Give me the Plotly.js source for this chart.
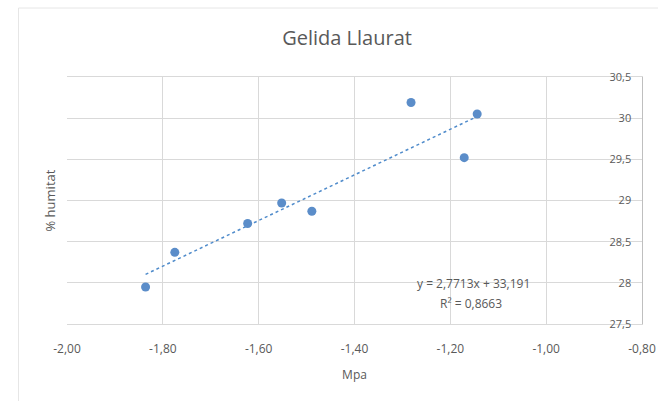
<!DOCTYPE html>
<html>
<head>
<meta charset="utf-8">
<script src="https://cdn.plot.ly/plotly-3.0.1.min.js"></script>
<style>html,body{margin:0;padding:0;background:#fff;}#chart{width:658px;height:401px;}</style>
</head>
<body>
<div id="chart"></div>
<script>
// Data
const mpa = [-1.836, -1.775, -1.623, -1.552, -1.489, -1.282, -1.171, -1.144];
const humitat = [27.95, 28.37, 28.72, 28.97, 28.87, 30.19, 29.52, 30.05];
// Trendline equation shown on the chart: y = 2,7713x + 33,191
const trendSlope = 2.7713;
const trendIntercept = 33.191;
const trendEquation = "y = 2,7713x + 33,191";
const trendR2 = "R² = 0,8663";
const xTickVals = [-2.0, -1.8, -1.6, -1.4, -1.2, -1.0, -0.8];
const xTickText = ["-2,00", "-1,80", "-1,60", "-1,40", "-1,20", "-1,00", "-0,80"];
const yTickVals = [27.5, 28, 28.5, 29, 29.5, 30, 30.5];
const yTickText = ["27,5", "28", "28,5", "29", "29,5", "30", "30,5"];

const xMin = Math.min(...mpa), xMax = Math.max(...mpa);
const trendX = [xMin, xMax];
const trendY = trendX.map(v => trendSlope * v + trendIntercept);

const textColor = '#595959';
const font = '"Open Sans", Lato, sans-serif';
const gridColor = '#d9d9d9';

const traces = [
  {
    x: trendX, y: trendY, type: 'scatter', mode: 'lines',
    line: {color: '#4F8BCB', width: 1.5, dash: 'dot'},
    hoverinfo: 'skip', showlegend: false
  },
  {
    x: mpa, y: humitat, type: 'scatter', mode: 'markers',
    marker: {color: '#5B8DC9', size: 9, line: {width: 0}},
    showlegend: false
  }
];

const layout = {
  width: 658, height: 401,
  paper_bgcolor: '#ffffff', plot_bgcolor: '#ffffff',
  margin: {l: 66.5, r: 16.3, t: 77, b: 77},
  font: {family: font, color: textColor, size: 12},
  title: {text: 'Gelida Llaurat', x: 0.487, xref: 'paper', xanchor: 'center', y: 0.905, yref: 'container', yanchor: 'middle',
          font: {family: font, size: 20, color: textColor}},
  xaxis: {
    range: [-2.0, -0.8], tickvals: xTickVals, ticktext: xTickText,
    showgrid: true, gridcolor: gridColor, gridwidth: 1,
    zeroline: false, showline: true, linecolor: gridColor, linewidth: 1, mirror: true, ticks: '',
    ticklabeloverflow: 'allow', ticklabelstandoff: 14,
    tickfont: {family: font, size: 12, color: textColor},
    title: {text: 'Mpa', font: {family: font, size: 12, color: textColor}, standoff: 14}
  },
  yaxis: {
    range: [27.5, 30.5], side: 'right', ticklabelposition: 'inside',
    tickvals: yTickVals, ticktext: yTickText,
    showgrid: true, gridcolor: gridColor, gridwidth: 1,
    zeroline: false, showline: true, linecolor: '#bfbfbf', linewidth: 1, ticks: '',
    ticklabeloverflow: 'allow', ticklabelstandoff: 10,
    tickfont: {family: font, size: 11, color: textColor}
  },
  annotations: [
    {text: '% humitat', xref: 'paper', yref: 'paper', x: -0.0287, y: 0.502,
     textangle: -90, showarrow: false, xanchor: 'center', yanchor: 'middle',
     font: {family: font, size: 13, color: textColor}},
    {text: trendEquation, xref: 'paper', yref: 'paper', x: 0.707, y: 0.162,
     showarrow: false, xanchor: 'center', yanchor: 'middle',
     font: {family: font, size: 12, color: textColor}},
    {text: trendR2, xref: 'paper', yref: 'paper', x: 0.702, y: 0.085,
     showarrow: false, xanchor: 'center', yanchor: 'middle',
     font: {family: font, size: 12, color: textColor}}
  ],
  shapes: [
    {type: 'rect', xref: 'paper', yref: 'paper',
     x0: (18 - 66.5) / 575.2, x1: 1.1, y0: -0.4, y1: (324 - 8) / 247,
     line: {color: '#e6e6e6', width: 1}, fillcolor: 'rgba(0,0,0,0)', layer: 'below'}
  ]
};

Plotly.newPlot('chart', traces, layout, {displayModeBar: false, staticPlot: true});
</script>
</body>
</html>
